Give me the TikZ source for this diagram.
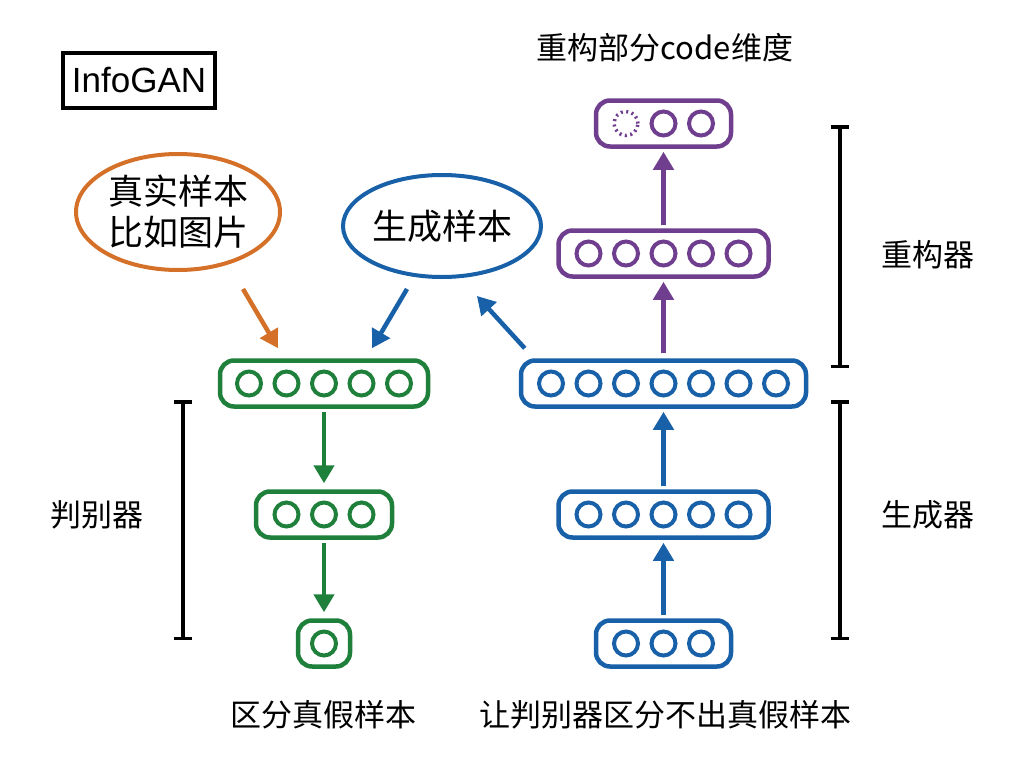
\documentclass[tikz,border=0pt]{standalone}
\usepackage{fontspec}
\setmainfont{Liberation Sans}
\newfontfamily\cjk{Noto Sans CJK SC}
\usetikzlibrary{positioning,shapes,arrows.meta,calc}
\definecolor{discgreen}{RGB}{30,128,58}
\definecolor{genblue}{RGB}{24,96,168}
\definecolor{recpurple}{RGB}{112,62,142}
\definecolor{realorange}{RGB}{212,112,40}

\begin{document}
\begin{tikzpicture}[x=1pt,y=-1pt,
    layer/.style={draw=#1,line width=4.5pt,rounded corners=14pt,minimum height=46pt,inner sep=0pt},
    unit/.style={circle,draw=#1,line width=4pt,minimum size=24pt,inner sep=0pt},
    flow/.style={draw=#1,line width=4.5pt,-{Triangle[length=18pt,width=20pt]}},
    txt/.style={font=\cjk\fontsize{31}{36}\selectfont,inner sep=0pt},
    bubble/.style={ellipse,draw=#1,line width=4pt,align=center,inner sep=0pt,
      font=\cjk\fontsize{35}{41}\selectfont},
    bracket/.style={line width=3.5pt,{Bar[width=18pt]}-{Bar[width=18pt]}}]
    \useasboundingbox (0,0) rectangle (1024,768);

    % title
    \node[draw,line width=4pt,minimum width=152pt,minimum height=55pt,inner sep=0pt,
      font=\fontsize{35}{40}\selectfont] (title) at (139,80.5) {InfoGAN};

    % inputs
    \node[bubble=realorange,minimum width=204pt,minimum height=116pt] (real) at (178,212) {真实样本\\比如图片};
    \node[bubble=genblue,minimum width=170pt,minimum height=102pt] (gen) at (442,226) {生成样本};

    % discriminator
    \node[layer=discgreen,minimum width=208pt] (d1) at (324,383.5) {};
    \node[layer=discgreen,minimum width=136pt] (d2) at (324,514.5) {};
    \node[layer=discgreen,minimum width=52pt] (d3) at (324,643.5) {};
    \foreach \k [count=\n] in {-2,...,2}
      \node[unit=discgreen] (d1-\n) at ($(d1)+(37.5*\k,0)$) {};
    \foreach \k [count=\n] in {-1,0,1}
      \node[unit=discgreen] (d2-\n) at ($(d2)+(37.5*\k,0)$) {};
    \node[unit=discgreen] (d3-1) at (d3) {};

    % generator
    \node[layer=genblue,minimum width=285pt] (g1) at (663.5,383.5) {};
    \node[layer=genblue,minimum width=210pt] (g2) at (663.5,514.5) {};
    \node[layer=genblue,minimum width=135pt] (g3) at (663.5,643.5) {};
    \foreach \k [count=\n] in {-3,...,3}
      \node[unit=genblue] (g1-\n) at ($(g1)+(37.5*\k,0)$) {};
    \foreach \k [count=\n] in {-2,...,2}
      \node[unit=genblue] (g2-\n) at ($(g2)+(37.5*\k,0)$) {};
    \foreach \k [count=\n] in {-1,0,1}
      \node[unit=genblue] (g3-\n) at ($(g3)+(37.5*\k,0)$) {};

    % reconstructor
    \node[layer=recpurple,minimum width=210pt] (r1) at (663.5,253.5) {};
    \node[layer=recpurple,minimum width=135pt] (r2) at (663.5,123.5) {};
    \foreach \k [count=\n] in {-2,...,2}
      \node[unit=recpurple] (r1-\n) at ($(r1)+(37.5*\k,0)$) {};
    \node[unit=recpurple,line width=3.5pt,dash pattern=on 2pt off 3.5pt] (r2-1) at ($(r2)+(-37.5,0)$) {};
    \node[unit=recpurple] (r2-2) at (r2) {};
    \node[unit=recpurple] (r2-3) at ($(r2)+(37.5,0)$) {};

    % connectors
    \draw[flow=realorange] ([shift={(65,17)}]real.south) -- ([shift={(-46,-10)}]d1.north);
    \draw[flow=genblue] ([shift={(-35,10)}]gen.south) -- ([shift={(48,-10)}]d1.north);
    \draw[flow=genblue] ([shift={(6,-10)}]g1.north west) -- ([shift={(-12,23)}]gen.-45);
    \draw[flow=discgreen,shorten <=3pt,shorten >=6pt] (d1.south) -- (d2.north);
    \draw[flow=discgreen,shorten <=3pt,shorten >=6pt] (d2.south) -- (d3.north);
    \draw[flow=genblue,shorten <=3pt,shorten >=3pt] (g3.north) -- (g2.south);
    \draw[flow=genblue,shorten <=3pt,shorten >=3pt] (g2.north) -- (g1.south);
    \draw[flow=recpurple,shorten <=5pt,shorten >=3pt] (g1.north) -- (r1.south);
    \draw[flow=recpurple,shorten <=3pt,shorten >=3pt] (r1.north) -- (r2.south);

    % brackets
    \draw[bracket] (183,400) -- (183,640);
    \draw[bracket] (840,125) -- (840,368);
    \draw[bracket] (840,400) -- (840,640);

    % labels
    \node[txt] (dlabel) at (97,515) {判别器};
    \node[txt] (glabel) at (928,515) {生成器};
    \node[txt] (rlabel) at (928,255) {重构器};
    \node[txt] (rtop) at (665,48) {重构部分code维度};
    \node[txt] (dout) at (323,715) {区分真假样本};
    \node[txt] (gout) at (665,715) {让判别器区分不出真假样本};
  \end{tikzpicture}
\end{document}
